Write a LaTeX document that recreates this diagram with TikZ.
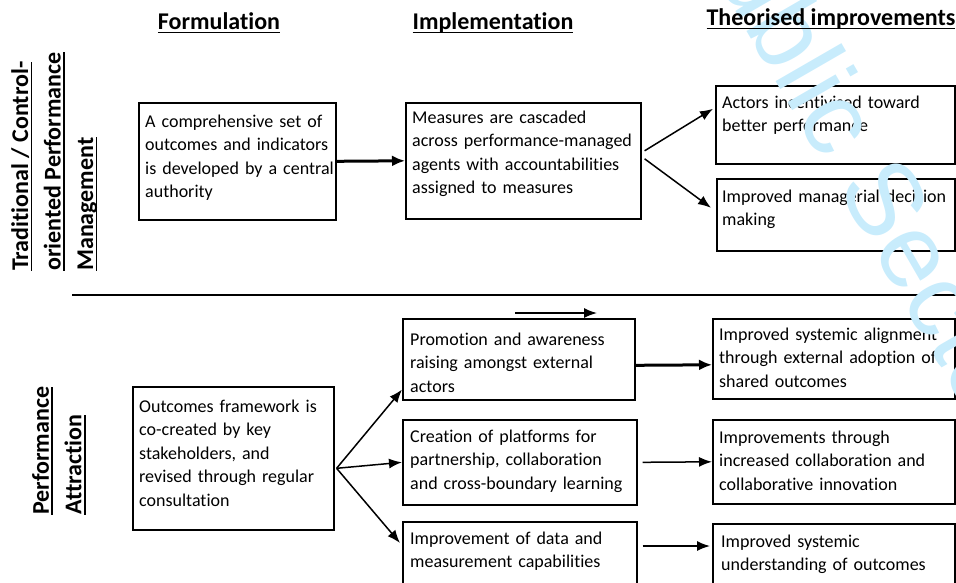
\documentclass[tikz,border=0pt]{standalone}
\usepackage{fontspec}
\setmainfont{Carlito}[Ligatures=NoCommon]
\newfontfamily\markfont{Liberation Sans}
\usetikzlibrary{positioning, arrows.meta}
\definecolor{watermark}{RGB}{200,236,252}
\newcommand{\undertext}[1]{\setbox0\hbox{#1}\rlap{\vrule height -2.5pt depth 4.3pt width \wd0}\box0}

\begin{document}
\begin{tikzpicture}[x=1pt, y=-1pt,
	box/.style={draw, line width=1.6pt, anchor=north west, inner sep=0pt},
	boxtext/.style={anchor=base west, align=left, text width=236pt, inner sep=0pt, font=\fontsize{18}{23.5}\selectfont},
	heading/.style={anchor=base, inner sep=0pt, font=\fontsize{24}{28}\selectfont\bfseries},
	sidetitle/.style={rotate=90, anchor=north west, align=left, inner sep=0pt, font=\fontsize{24}{32.5}\selectfont\bfseries},
	link/.style={-{Latex[length=13pt,width=10pt]}, line width=1.5pt},
	strong link/.style={-{Latex[length=13pt,width=11pt]}, line width=3pt}]
	\useasboundingbox (0,0) rectangle (956,582);
	\clip (0,0) rectangle (956,582);
	% row titles
	\node[sidetitle] (traditional) at (11,271) {\undertext{Traditional / Control-}\\\undertext{oriented Performance}\\\undertext{Management}};
	\node[sidetitle] (attraction) at (32,515) {\undertext{Performance}\\\undertext{Attraction}};
	\draw[line width=1.8pt] (72,295) -- (956,295);
	% upper row
	\node[box, minimum width=197pt, minimum height=117pt] (central) at (138,102) {};
	\node[boxtext] (central text) at (145,127) {A comprehensive set of\\outcomes and indicators\\is developed by a central\\authority};
	\node[box, minimum width=235pt, minimum height=116pt] (cascade) at (405,102) {};
	\node[boxtext] (cascade text) at (412,123) {Measures are cascaded\\across performance-managed\\agents with accountabilities\\assigned to measures};
	\node[box, minimum width=239pt, minimum height=78pt] (incentive) at (715,85) {};
	\node[boxtext] (incentive text) at (722,108) {Actors incentivised toward\\better performance};
	\node[box, minimum width=238pt, minimum height=72pt] (decision) at (716,178) {};
	\node[boxtext] (decision text) at (722,202) {Improved managerial decision\\making};
	\draw[strong link] (central.east) -- (cascade.west);
	\draw[link] ([shift={(3,-10)}]cascade.east) -- ([shift={(-2,-16)}]incentive.west);
	\draw[link] ([shift={(3,-2)}]cascade.east) -- ([shift={(-5,-7)}]decision.west);
	% lower row
	\node[box, minimum width=201pt, minimum height=143pt] (framework) at (132,386) {};
	\node[boxtext] (framework text) at (139,412) {Outcomes framework is\\co-created by key\\stakeholders, and\\revised through regular\\consultation};
	\node[box, minimum width=232pt, minimum height=81pt] (promotion) at (402,318) {};
	\node[boxtext] (promotion text) at (410,345) {Promotion and awareness\\raising amongst external\\actors};
	\node[box, minimum width=234pt, minimum height=85pt] (platforms) at (402,419) {};
	\node[boxtext] (platforms text) at (410,442) {Creation of platforms for\\partnership, collaboration\\and cross-boundary learning};
	\node[box, minimum width=234pt, minimum height=80pt] (data) at (402,521) {};
	\node[boxtext] (data text) at (410,544) {Improvement of data and\\measurement capabilities};
	\node[box, minimum width=242pt, minimum height=80pt] (alignment) at (712,318) {};
	\node[boxtext] (alignment text) at (719,340) {Improved systemic alignment\\through external adoption of\\shared outcomes};
	\node[box, minimum width=242pt, minimum height=84pt] (innovation) at (712,419) {};
	\node[boxtext] (innovation text) at (719,443) {Improvements through\\increased collaboration and\\collaborative innovation};
	\node[box, minimum width=242pt, minimum height=80pt] (understanding) at (712,523) {};
	\node[boxtext] (understanding text) at (721,547) {Improved systemic\\understanding of outcomes};
	\coordinate (fork) at ([shift={(2,10)}]framework.east);
	\draw[link] (fork) -- ([shift={(0,-11)}]promotion.south west);
	\draw[link] (fork) -- (platforms.west);
	\draw[link] (fork) -- ([shift={(-2,22)}]data.north west);
	\draw[strong link] ([shift={(0,6)}]promotion.east) -- ([shift={(0,6)}]alignment.west);
	\draw[link] ([shift={(5,0)}]platforms.east) -- (innovation.west);
	\draw[link] ([shift={(5,25)}]data.north east) -- ([shift={(-2,23)}]understanding.north west);
	\coordinate (stray start) at (515,313);
	\coordinate (stray end) at (597,313);
	\draw[link] (stray start) -- (stray end);
	% watermark
	\node[rotate=-60, anchor=base west, inner sep=0pt, text=watermark, font=\markfont\fontsize{105}{105}\selectfont] (mark) at (679,-86) {Public Sector};
	% column headings
	\node[heading] (formulation) at (219,29) {\undertext{Formulation}};
	\node[heading] (implementation) at (493,29) {\undertext{Implementation}};
	\node[heading] (theorised) at (831,25) {\undertext{Theorised improvements}};
\end{tikzpicture}
\end{document}
